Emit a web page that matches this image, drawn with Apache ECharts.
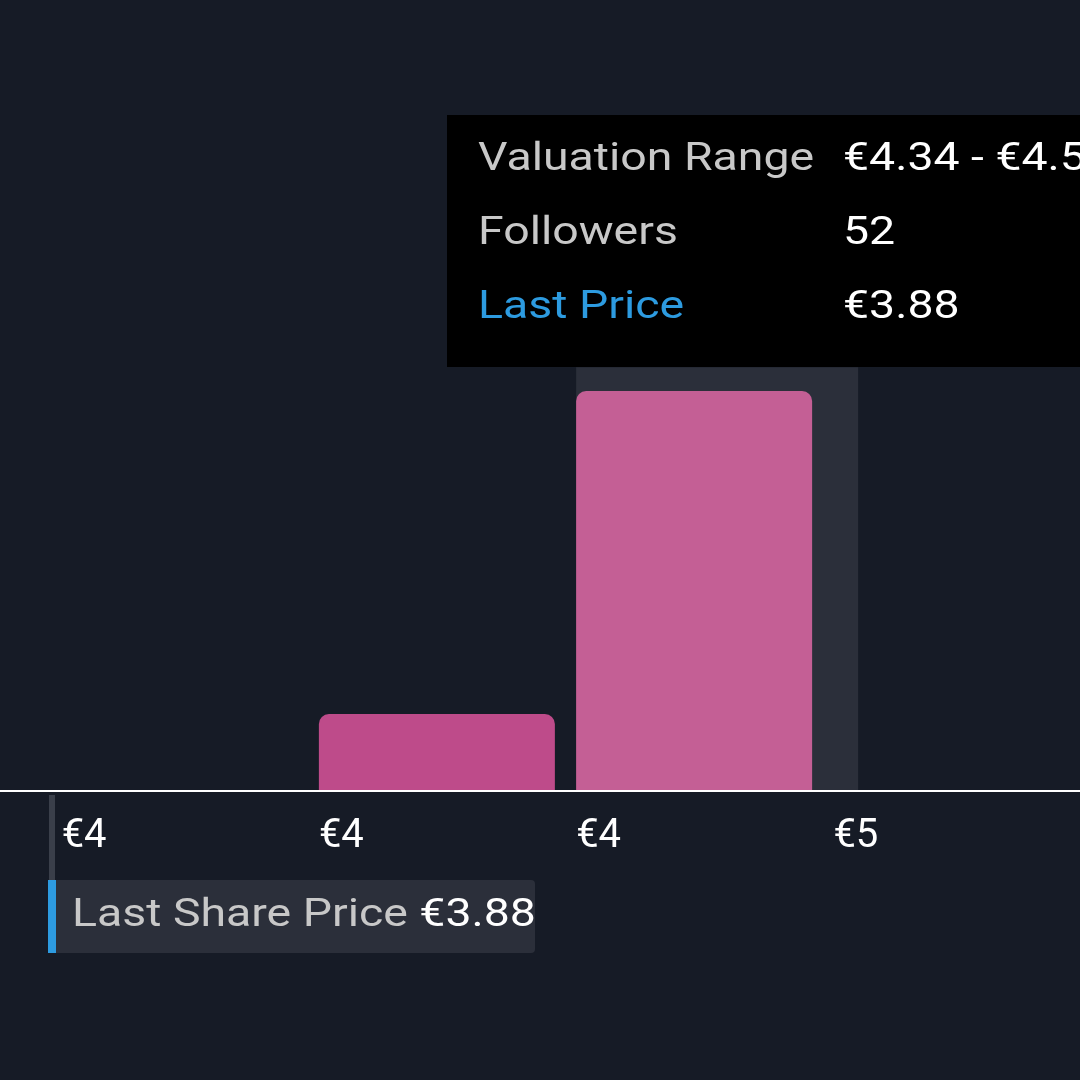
<!DOCTYPE html>
<html><head><meta charset="utf-8">
<script src="https://cdn.jsdelivr.net/npm/echarts@6/dist/echarts.min.js"></script>
<style>html,body{margin:0;padding:0;background:#161b26;}#c{width:1080px;height:1080px;}</style>
</head><body><div id="c"></div>
<script>
const categories = ['€4', '€4', '€4', '€5'];
const followers = [0, 10, 52, 0];
const highlight = [null, null, 55.1, null];
const tooltipRows = [['Valuation Range', '€4.34 - €4.55'], ['Followers', '52'], ['Last Price', '€3.88']];
const lastPriceLabel = 'Last Share Price';
const lastPriceValue = '€3.88';

const chart = echarts.init(document.getElementById('c'));
const F = 'Roboto, sans-serif';
const SX = 1.19;
const g = [];
g.push({type:'line', shape:{x1:0,y1:791,x2:1080,y2:791}, style:{stroke:'#ffffff', lineWidth:2}, z:10});
g.push({type:'rect', shape:{x:447,y:115,width:700,height:252}, style:{fill:'#000000'}, z:20});
tooltipRows.forEach((r,i)=>{
  g.push({type:'text', x:478, y:160+74*i, scaleX:SX, style:{text:r[0], fill: i===2?'#2d9be0':'#c8c8c8', font:'39px '+F, verticalAlign:'middle'}, z:21});
  g.push({type:'text', x:843, y:160+74*i, scaleX:SX, style:{text:r[1], fill:'#ffffff', font:'39px '+F, verticalAlign:'middle'}, z:21});
});
g.push({type:'rect', shape:{x:49,y:795,width:6,height:90}, style:{fill:'#3a3f4a'}, z:5});
g.push({type:'rect', shape:{x:48,y:880,width:487,height:73,r:4}, style:{fill:'#2b2f3a'}, z:6});
g.push({type:'rect', shape:{x:48,y:880,width:8,height:73}, style:{fill:'#2d9be0'}, z:7});
g.push({type:'text', x:72, y:916, scaleX:SX, style:{rich:{a:{fill:'#c8c8c8',font:'39px '+F},b:{fill:'#ffffff',font:'39px '+F}}, text:'{a|'+lastPriceLabel+' }{b|'+lastPriceValue+'}', verticalAlign:'middle'}, z:8});

chart.setOption({
  backgroundColor:'#161b26',
  animation:false,
  grid:{left:51, right:-155, top:329.5, bottom:289},
  xAxis:{type:'category', data:categories, axisLine:{show:false}, axisTick:{show:false},
    axisLabel:{margin:26, formatter:v=>'{a|'+v+'}', rich:{a:{width:236, align:'left', color:'#ffffff', fontSize:40, fontFamily:F}}}},
  yAxis:{type:'value', min:0, max:60, show:false, splitLine:{show:false}},
  series:[
    {type:'bar', data:highlight, barWidth:282, itemStyle:{color:'#2b2f3a'}, z:1},
    {type:'bar', data:followers, barWidth:236, barGap:'-100%', z:2,
      itemStyle:{borderRadius:[10,10,0,0], color:p=>p.dataIndex===2?'#c45f95':'#be4b8a'}}
  ],
  graphic:g
});
</script></body></html>
